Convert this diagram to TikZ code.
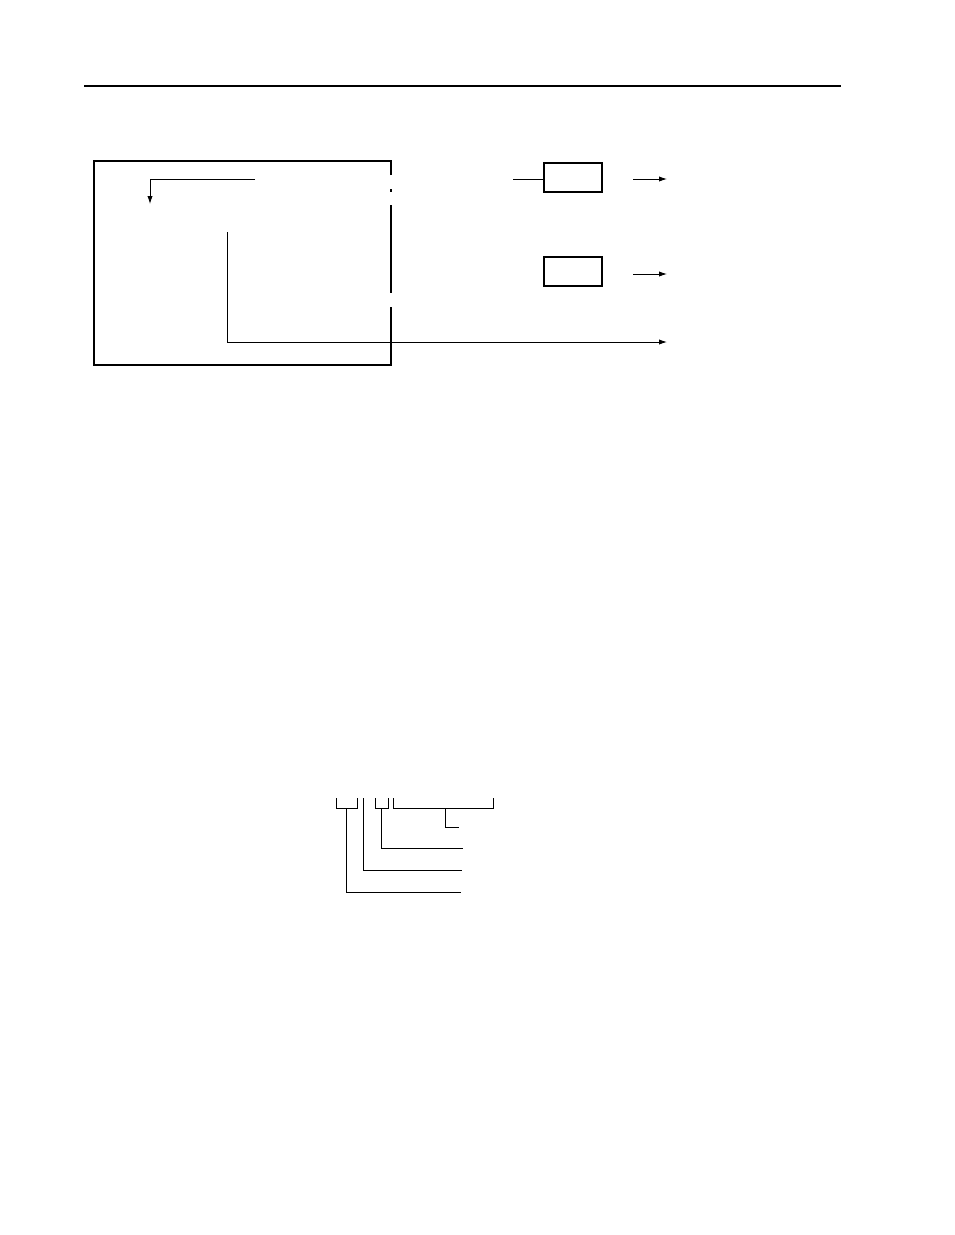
\documentclass[tikz,border=0pt]{standalone}
\usepackage{tikz}
\usetikzlibrary{arrows.meta, positioning, calc}

\begin{document}
\begin{tikzpicture}[
        x=0.75pt, y=-0.75pt,
        frame/.style={draw, line width=0.8pt},
        smallbox/.style={rectangle, draw, line width=0.8pt, inner sep=0pt, minimum width=43.5pt, minimum height=21.75pt},
        wire/.style={line width=0.7pt},
        sig/.style={line width=0.7pt, -{Latex[length=6pt, width=4pt]}}
    ]
        \useasboundingbox (0,0) rectangle (954,1235);

        % page rule
        \coordinate (ruleL) at (84,86);
        \coordinate (ruleR) at (841,86);
        \draw[line width=1.1pt] (ruleL) -- (ruleR);

        % module outline with broken right side
        \coordinate (modTL) at (94,161);
        \coordinate (modBR) at (391,365);
        \draw[frame] (391,175) -- (391,161) -- (94,161) -- (94,365) -- (391,365) -- (391,307);
        \draw[frame] (391,189) -- (391,192);
        \draw[frame] (391,205) -- (391,293);

        % inner signal paths
        \coordinate (feedA) at (255,179);
        \coordinate (feedB) at (150,179);
        \coordinate (feedC) at (150,204);
        \draw[sig] (feedA) -- (feedB) -- (feedC);

        \coordinate (outA) at (227,232);
        \coordinate (outB) at (227,342);
        \coordinate (outC) at (667,342);
        \draw[sig] (outA) -- (outB) -- (outC);

        % external blocks
        \node[smallbox] (blkA) at (573,177.5) {};
        \node[smallbox] (blkB) at (573,271.5) {};

        \coordinate (inA) at (513,179);
        \draw[wire] (inA) -- (blkA.west |- inA);

        \coordinate (arrA1) at (633,179);
        \coordinate (arrA2) at (667,179);
        \draw[sig] (arrA1) -- (arrA2);
        \coordinate (arrB1) at (633,274);
        \coordinate (arrB2) at (667,274);
        \draw[sig] (arrB1) -- (arrB2);

        % code breakdown brackets
        \coordinate (brA1) at (336,798);
        \coordinate (brA2) at (357,798);
        \draw[wire] (brA1) -- ++(0,10) -| (brA2);
        \coordinate (brB1) at (375,798);
        \coordinate (brB2) at (388,798);
        \draw[wire] (brB1) -- ++(0,10) -| (brB2);
        \coordinate (brC1) at (393,798);
        \coordinate (brC2) at (493,798);
        \draw[wire] (brC1) -- ++(0,10) -| (brC2);

        % leaders
        \coordinate (ldC) at (445,808);
        \coordinate (ldCend) at (459,827);
        \draw[wire] (ldC) |- (ldCend);
        \coordinate (ldB) at (381.5,808);
        \coordinate (ldBend) at (463,848);
        \draw[wire] (ldB) |- (ldBend);
        \coordinate (ldS) at (363,798);
        \coordinate (ldSend) at (462,870);
        \draw[wire] (ldS) |- (ldSend);
        \coordinate (ldA) at (346,808);
        \coordinate (ldAend) at (461,892);
        \draw[wire] (ldA) |- (ldAend);

    \end{tikzpicture}
\end{document}
